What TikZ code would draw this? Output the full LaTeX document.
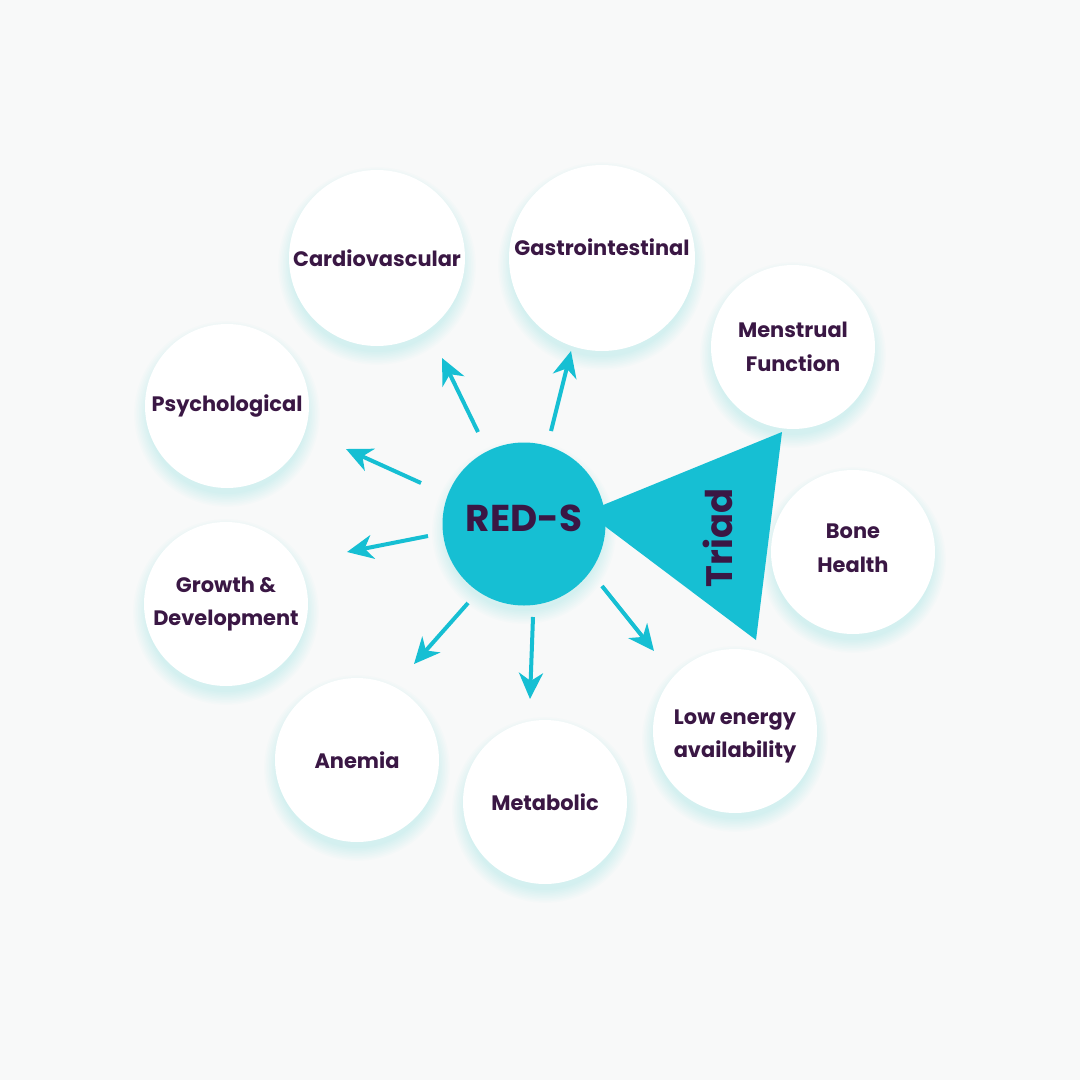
\documentclass[tikz,border=0pt]{standalone}
\usepackage{fontspec}
\setmainfont{Poppins}
\usetikzlibrary{arrows.meta,backgrounds}

\definecolor{redsteal}{HTML}{16BFD3}
\definecolor{plum}{HTML}{3A1744}
\definecolor{paper}{HTML}{F8F9F9}

\newcommand{\twolines}[3]{\raisebox{#1}[0pt][0pt]{\begin{tabular}{@{}c@{}}#2\\#3\end{tabular}}}

\tikzset{
  bubble/.style={circle,fill=white,minimum size=164bp,inner sep=0pt,align=center,
    text=plum,font=\bfseries\fontsize{21}{33.5}\selectfont},
  hub/.style={circle,fill=redsteal,minimum size=163bp,inner sep=0pt,
    text=plum,font=\bfseries\fontsize{37.5}{40}\selectfont},
  arr/.style={-{Stealth[length=26bp,width=24bp,inset=8bp]},line width=4bp,draw=redsteal},
}

\begin{document}
\begin{tikzpicture}[x=1bp,y=-1bp]
  \useasboundingbox (0,0) rectangle (1080,1080);

  % triad wedge, behind the hub
  \fill[redsteal] (586,512) -- (782,432) -- (756,640) -- cycle;

  \node[hub] (reds) at (524,524) {\raisebox{11bp}{RED-S}};
  \node[rotate=90,text=plum,font=\bfseries\fontsize{37}{40}\selectfont] (triad) at (718,538) {Triad};

  \node[bubble,minimum size=176bp] (cardio) at (377,258) {Cardiovascular};
  \node[bubble,minimum size=186bp] (gastro) at (602,258) {\raisebox{21bp}{Gastrointestinal}};
  \node[bubble] (menstrual) at (793,347) {Menstrual\\Function};
  \node[bubble] (psych) at (227,406) {\raisebox{3bp}{Psychological}};
  \node[bubble] (bone) at (853,552) {\twolines{-2bp}{Bone}{Health}};
  \node[bubble] (growth) at (226,604) {Growth \&\\Development};
  \node[bubble] (anemia) at (357,760) {\raisebox{-6bp}{Anemia}};
  \node[bubble] (metabolic) at (545,802) {Metabolic};
  \node[bubble] (lea) at (735,731) {\twolines{-8.5bp}{Low energy}{availability}};

  % arrows out of the hub
  \foreach \i/\ax/\ay/\bx/\by in {1/478/432/442/358, 2/551/431/571/351, 3/421/483/346/449,
      4/428/536/347/552, 5/468/603/414/664, 6/533/617/530/699, 7/602/586/654/651} {
    \coordinate (t\i) at (\ax,\ay);
    \coordinate (h\i) at (\bx,\by);
    \draw[arr] (t\i) -- (h\i);
  }

  \begin{scope}[on background layer]
    \fill[paper] (0,0) rectangle (1080,1080);
    % soft glow under every circle
    \foreach \n/\r in {reds/81,cardio/88,gastro/93,menstrual/82,psych/82,bone/82,
        growth/82,anemia/82,metabolic/82,lea/82} {
      \foreach \k in {0,...,8}
        \fill[redsteal,opacity=0.014] ([yshift=-8bp]\n.center) circle (\r bp-2bp+\k*1.6bp);
    }
  \end{scope}
\end{tikzpicture}
\end{document}
